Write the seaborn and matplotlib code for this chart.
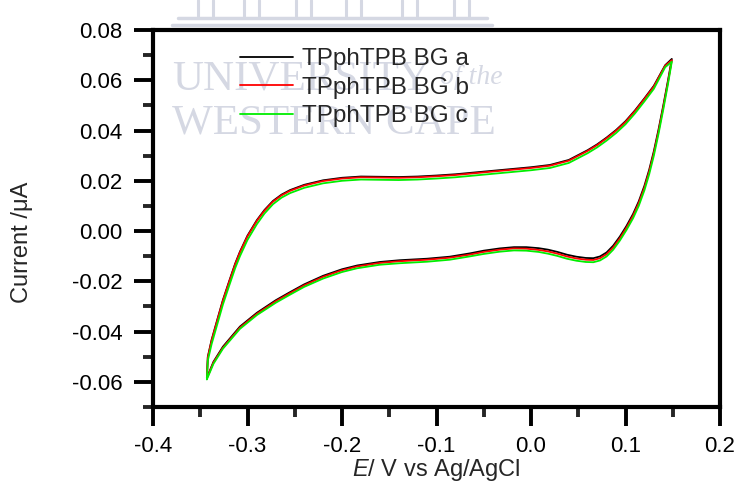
import matplotlib
matplotlib.use("Agg")
import matplotlib.pyplot as plt
from matplotlib.ticker import MultipleLocator, FormatStrFormatter
from matplotlib.lines import Line2D
import pandas as pd
import seaborn as sns

# ---- cyclic voltammograms: forward (anodic) sweep then reverse sweep ----
potential_fwd = [-0.343, -0.342, -0.338, -0.332, -0.326, -0.319, -0.313, -0.308, -0.300, -0.290,
                 -0.282, -0.273, -0.264, -0.255, -0.240, -0.220, -0.200, -0.180, -0.160, -0.140,
                 -0.120, -0.100, -0.080, -0.060, -0.040, -0.020, 0.000, 0.020, 0.040, 0.060,
                 0.070, 0.080, 0.090, 0.100, 0.110, 0.120, 0.130, 0.142]
potential_rev = [0.149, 0.145, 0.140, 0.135, 0.130, 0.125, 0.120, 0.114, 0.108, 0.101,
                 0.094, 0.087, 0.080, 0.073, 0.066, 0.058, 0.048, 0.038, 0.028, 0.018,
                 0.008, -0.005, -0.018, -0.033, -0.050, -0.065, -0.086, -0.110, -0.139, -0.160,
                 -0.184, -0.200, -0.220, -0.240, -0.255, -0.270, -0.290, -0.308, -0.326, -0.336,
                 -0.343]

current_a_fwd = [-0.0584, -0.0500, -0.0433, -0.0353, -0.0274, -0.0195, -0.0129, -0.0082, -0.0018, 0.0044,
                 0.0084, 0.0120, 0.0145, 0.0163, 0.0184, 0.0202, 0.0212, 0.0217, 0.0216, 0.0215,
                 0.0217, 0.0221, 0.0226, 0.0233, 0.0240, 0.0247, 0.0254, 0.0263, 0.0283, 0.0322,
                 0.0345, 0.0372, 0.0402, 0.0437, 0.0480, 0.0528, 0.0578, 0.0660]
current_a_rev = [0.0685, 0.0600, 0.0500, 0.0405, 0.0318, 0.0243, 0.0180, 0.0118, 0.0068, 0.0020,
                 -0.0022, -0.0058, -0.0085, -0.0101, -0.0108, -0.0107, -0.0102, -0.0094, -0.0083, -0.0074,
                 -0.0068, -0.0064, -0.0064, -0.0069, -0.0078, -0.0089, -0.0102, -0.0110, -0.0116, -0.0123,
                 -0.0137, -0.0152, -0.0178, -0.0212, -0.0243, -0.0275, -0.0325, -0.0380, -0.0460, -0.0520,
                 -0.0584]

current_b_fwd = [-0.0584, -0.0503, -0.0436, -0.0356, -0.0277, -0.0198, -0.0132, -0.0085, -0.0021, 0.0041,
                 0.0081, 0.0117, 0.0142, 0.0160, 0.0181, 0.0199, 0.0209, 0.0214, 0.0213, 0.0212,
                 0.0214, 0.0218, 0.0223, 0.0230, 0.0237, 0.0244, 0.0251, 0.0260, 0.0280, 0.0319,
                 0.0342, 0.0369, 0.0399, 0.0434, 0.0477, 0.0525, 0.0575, 0.0658]
current_b_rev = [0.0680, 0.0594, 0.0494, 0.0398, 0.0311, 0.0236, 0.0173, 0.0111, 0.0061, 0.0013,
                 -0.0029, -0.0065, -0.0092, -0.0108, -0.0115, -0.0114, -0.0109, -0.0101, -0.0090, -0.0081,
                 -0.0075, -0.0070, -0.0069, -0.0074, -0.0083, -0.0094, -0.0106, -0.0114, -0.0120, -0.0127,
                 -0.0141, -0.0156, -0.0182, -0.0216, -0.0247, -0.0279, -0.0329, -0.0384, -0.0464, -0.0523,
                 -0.0586]

current_c_fwd = [-0.0590, -0.0515, -0.0450, -0.0371, -0.0292, -0.0213, -0.0147, -0.0100, -0.0035, 0.0028,
                 0.0070, 0.0107, 0.0133, 0.0151, 0.0172, 0.0190, 0.0200, 0.0205, 0.0204, 0.0203,
                 0.0205, 0.0209, 0.0214, 0.0221, 0.0228, 0.0235, 0.0242, 0.0251, 0.0271, 0.0310,
                 0.0333, 0.0360, 0.0390, 0.0425, 0.0468, 0.0516, 0.0566, 0.0652]
current_c_rev = [0.0674, 0.0586, 0.0484, 0.0388, 0.0300, 0.0225, 0.0162, 0.0100, 0.0051, 0.0004,
                 -0.0038, -0.0074, -0.0101, -0.0117, -0.0124, -0.0123, -0.0118, -0.0110, -0.0099, -0.0090,
                 -0.0083, -0.0078, -0.0077, -0.0082, -0.0091, -0.0101, -0.0114, -0.0122, -0.0128, -0.0134,
                 -0.0148, -0.0163, -0.0189, -0.0222, -0.0253, -0.0285, -0.0334, -0.0389, -0.0468, -0.0528,
                 -0.0590]

series_names = ["TPphTPB BG a", "TPphTPB BG b", "TPphTPB BG c"]
series_colors = ["#000000", "#ff0000", "#00ee00"]

x_ticks = [-0.4, -0.3, -0.2, -0.1, 0.0, 0.1, 0.2]
y_ticks = [-0.06, -0.04, -0.02, 0.00, 0.02, 0.04, 0.06, 0.08]

# ---- long-form table, one row per sample, keeping sweep order ----
frames = []
for name, fwd, rev in zip(series_names,
                          [current_a_fwd, current_b_fwd, current_c_fwd],
                          [current_a_rev, current_b_rev, current_c_rev]):
    E = potential_fwd + potential_rev
    I = fwd + rev
    frames.append(pd.DataFrame({"E": E, "I": I, "series": name}))
df = pd.concat(frames, ignore_index=True)

# ---- style ----
sns.set_theme(style="ticks")
plt.rcParams["font.family"] = ["Liberation Sans", "DejaVu Sans"]
plt.rcParams["axes.unicode_minus"] = False
plt.rcParams["mathtext.fontset"] = "custom"
plt.rcParams["mathtext.rm"] = "Liberation Sans"
plt.rcParams["mathtext.it"] = "Liberation Sans:italic"

W, H = 741, 486
fig = plt.figure(figsize=(W / 100, H / 100), dpi=100)
fig.patch.set_facecolor("white")

# faint university crest / name printed behind the plot
wm = "#d5d8e3"
for x0 in [198, 244, 296, 346, 402, 454]:
    for dx in (0, 15):
        fig.add_artist(Line2D([(x0 + dx) / W] * 2, [1.0, 1 - 16 / H],
                              color=wm, lw=2.2, zorder=-5))
fig.add_artist(Line2D([178 / W, 487 / W], [1 - 18 / H] * 2, color=wm, lw=2.5, zorder=-5))
fig.add_artist(Line2D([172 / W, 492 / W], [1 - 25 / H] * 2, color=wm, lw=2.5, zorder=-5))
fig.text(172 / W, 1 - 89 / H, "UNIVERSITY", fontsize=31, family="Liberation Serif",
         color=wm, zorder=-5, va="baseline")
fig.text(440 / W, 1 - 84 / H, "of the", fontsize=20, family="Liberation Serif",
         style="italic", color=wm, zorder=-5, va="baseline")
fig.text(172 / W, 1 - 133 / H, "WESTERN CAPE", fontsize=31, family="Liberation Serif",
         color=wm, zorder=-5, va="baseline")

ax = fig.add_axes([153 / W, 1 - 407 / H, (720 - 153) / W, (407 - 30) / H])
ax.set_facecolor("none")

sns.lineplot(data=df, x="E", y="I", hue="series", hue_order=series_names,
             palette=series_colors, sort=False, estimator=None,
             linewidth=1.3, ax=ax, legend=True)

ax.set_xlim(-0.4, 0.2)
ax.set_ylim(-0.07, 0.08)
ax.set_xticks(x_ticks)
ax.set_yticks(y_ticks)
ax.xaxis.set_minor_locator(MultipleLocator(0.05))
ax.yaxis.set_minor_locator(MultipleLocator(0.01))
ax.xaxis.set_major_formatter(FormatStrFormatter("%.1f"))
ax.yaxis.set_major_formatter(FormatStrFormatter("%.2f"))

for s in ax.spines.values():
    s.set_linewidth(3.0)
    s.set_color("black")
ax.tick_params(which="major", direction="out", length=14, width=2.8, pad=8,
               labelsize=16, colors="black", top=False, right=False)
ax.tick_params(which="minor", direction="out", length=7, width=2.8,
               top=False, right=False)
ax.tick_params(axis="x", which="major", pad=7)

ax.set_xlabel(r"$\it{E}$/ V vs Ag/AgCl", fontsize=17, labelpad=0)
ax.set_ylabel("Current /μA", fontsize=17)
ax.yaxis.set_label_coords((33 - 153) / 567, 1 - (242 - 30) / 377)

ax.legend(loc="upper left", bbox_to_anchor=((240 - 153) / 567, 1 - (48 - 30) / 377),
          frameon=False, fontsize=17.5, handlelength=2.2, handletextpad=0.37,
          labelspacing=0.27, borderpad=0, borderaxespad=0)

fig.savefig("out.png", dpi=100)
